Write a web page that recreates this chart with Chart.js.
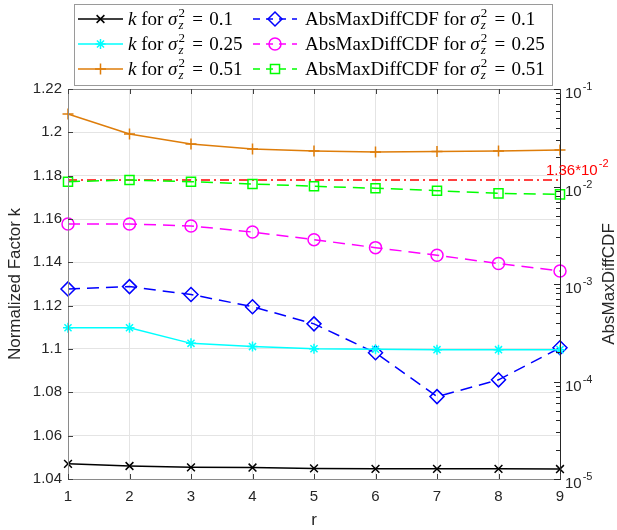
<!DOCTYPE html>
<html>
<head>
<meta charset="utf-8">
<script src="https://cdn.jsdelivr.net/npm/chart.js@4.4.1/dist/chart.umd.min.js"></script>
<style>
  html, body { margin: 0; padding: 0; background: #fff; }
  #wrap { width: 617px; height: 530px; }
</style>
</head>
<body>
<div id="wrap"><canvas id="chart" width="617" height="530"></canvas></div>
<script>
// ===============================
// DATA
// ===============================
const rValues = ['1', '2', '3', '4', '5', '6', '7', '8', '9'];
const varLabels = ['0.1', '0.25', '0.51'];

// normalized factor k (left axis)
const kVar01  = [1.0470, 1.0460, 1.0454, 1.0453, 1.0449, 1.0447, 1.0447, 1.0447, 1.0446];
const kVar025 = [1.1098, 1.1098, 1.1026, 1.1011, 1.1001, 1.0999, 1.0997, 1.0997, 1.0997];
const kVar051 = [1.2085, 1.1992, 1.1946, 1.1923, 1.1914, 1.1909, 1.1912, 1.1914, 1.1918];

// AbsMaxDiffCDF (right axis, log)
const cdfVar01  = [8.9e-4, 9.4e-4, 7.8e-4, 5.85e-4, 3.9e-4, 1.97e-4, 7.0e-5, 1.04e-4, 2.22e-4];
const cdfVar025 = [4.12e-3, 4.12e-3, 3.94e-3, 3.41e-3, 2.85e-3, 2.36e-3, 1.97e-3, 1.62e-3, 1.36e-3];
const cdfVar051 = [1.12e-2, 1.166e-2, 1.12e-2, 1.062e-2, 1.005e-2, 9.6e-3, 9.06e-3, 8.5e-3, 8.3e-3];

// red reference line
const refLevel = 0.01166;
const refText = '1.36*10';
const refExp = '-2';

// ticks
const kTicks = [1.04, 1.06, 1.08, 1.1, 1.12, 1.14, 1.16, 1.18, 1.2, 1.22];
const cdfTicks = [1e-5, 1e-4, 1e-3, 1e-2, 1e-1];
const cdfTickExp = ['-5', '-4', '-3', '-2', '-1'];

const ORANGE = 'rgb(222,125,10)';
const TXT = '#262626';

// ===============================
// DATASETS
// ===============================
function kSet(label, data, color, style, radius) {
  return {
    label, data, yAxisID: 'yLeft',
    borderColor: color, backgroundColor: 'rgba(0,0,0,0)',
    borderWidth: 1.5, pointStyle: style, pointRadius: radius,
    pointBorderColor: color, pointBackgroundColor: 'rgba(0,0,0,0)',
    pointBorderWidth: 1.5, tension: 0
  };
}
function cdfSet(label, data, color, style, radius) {
  const d = kSet(label, data, color, style, radius);
  d.yAxisID = 'yRight';
  d.borderDash = [12, 7];
  return d;
}

const datasets = [
  kSet('k 0.1', kVar01, '#000000', 'crossRot', 5.5),
  kSet('k 0.25', kVar025, '#00ffff', 'star', 5),
  kSet('k 0.51', kVar051, ORANGE, 'cross', 5.5),
  cdfSet('cdf 0.1', cdfVar01, '#0000ff', 'rectRot', 7),
  cdfSet('cdf 0.25', cdfVar025, '#ff00ff', 'circle', 6),
  cdfSet('cdf 0.51', cdfVar051, '#00ff00', 'rect', 6.4),
  {
    label: 'ref', data: rValues.map(() => refLevel), yAxisID: 'yRight',
    borderColor: '#ff0000', borderWidth: 1.5, borderDash: [9, 4, 2, 4],
    pointRadius: 0
  }
];

// ===============================
// DRAW HELPERS
// ===============================
function drawMarker(ctx, style, radius, x, y) {
  if (Chart.helpers && Chart.helpers.drawPoint) {
    Chart.helpers.drawPoint(ctx, { pointStyle: style, radius: radius, rotation: 0, borderWidth: 1.5 }, x, y);
  }
}

// "k for σ_z^2 = 0.1" style label
function drawRich(ctx, x, y, parts, size) {
  const fam = '"Liberation Serif", "Times New Roman", serif';
  ctx.textAlign = 'left';
  ctx.textBaseline = 'alphabetic';
  parts.forEach(p => {
    if (p.sub !== undefined) {
      const s = Math.round(size * 0.7);
      ctx.font = s + 'px ' + fam;
      const wSup = ctx.measureText(p.sup).width;
      ctx.fillText(p.sup, x + 1, y - size * 0.4);
      ctx.font = 'italic ' + s + 'px ' + fam;
      const wSub = ctx.measureText(p.sub).width;
      ctx.fillText(p.sub, x + 1, y + size * 0.2);
      x += Math.max(wSup, wSub) + 2;
    } else {
      ctx.font = (p.it ? 'italic ' : '') + size + 'px ' + fam;
      if (p.gap) x += p.gap;
      ctx.fillText(p.t, x, y);
      x += ctx.measureText(p.t).width + (p.gap || 0);
    }
  });
}

function sigmaParts(prefix, value) {
  return prefix.concat([
    { t: ' for ' }, { t: 'σ', it: true }, { sub: 'z', sup: '2' },
    { t: ' = ', gap: 1.5 }, { t: value }
  ]);
}

const decorPlugin = {
  id: 'decor',
  afterDraw(chart) {
    const ctx = chart.ctx;
    const a = chart.chartArea;
    const xs = chart.scales.x, yl = chart.scales.yLeft, yr = chart.scales.yRight;
    ctx.save();

    // box
    ctx.lineWidth = 1;
    ctx.strokeStyle = '#8a8a8a';
    ctx.beginPath();
    ctx.moveTo(a.left + 0.5, a.top + 0.5);
    ctx.lineTo(a.left + 0.5, a.bottom + 0.5);
    ctx.lineTo(a.right, a.bottom + 0.5);
    ctx.moveTo(a.left, a.top + 0.5);
    ctx.lineTo(a.right, a.top + 0.5);
    ctx.stroke();
    ctx.strokeStyle = '#262626';
    ctx.beginPath();
    ctx.moveTo(a.right + 0.5, a.top);
    ctx.lineTo(a.right + 0.5, a.bottom + 1);
    ctx.stroke();

    // tick marks (inside)
    ctx.strokeStyle = '#404040';
    ctx.beginPath();
    kTicks.forEach(v => {
      const y = Math.round(yl.getPixelForValue(v)) + 0.5;
      ctx.moveTo(a.left, y); ctx.lineTo(a.left + 5, y);
    });
    rValues.forEach((_, i) => {
      const x = Math.round(xs.getPixelForValue(i)) + 0.5;
      ctx.moveTo(x, a.bottom); ctx.lineTo(x, a.bottom - 5);
      ctx.moveTo(x, a.top); ctx.lineTo(x, a.top + 5);
    });
    ctx.stroke();
    ctx.strokeStyle = '#262626';
    ctx.beginPath();
    cdfTicks.forEach((v, i) => {
      const y = Math.round(yr.getPixelForValue(v)) + 0.5;
      ctx.moveTo(a.right, y); ctx.lineTo(a.right - 6, y);
      if (i < cdfTicks.length - 1) {
        for (let m = 2; m <= 9; m++) {
          const ym = Math.round(yr.getPixelForValue(v * m)) + 0.5;
          ctx.moveTo(a.right, ym); ctx.lineTo(a.right - 4, ym);
        }
      }
    });
    ctx.stroke();

    // right tick labels 10^n
    ctx.fillStyle = TXT;
    ctx.textBaseline = 'middle';
    ctx.textAlign = 'left';
    cdfTicks.forEach((v, i) => {
      const y = yr.getPixelForValue(v);
      ctx.font = '15px "Liberation Sans", Arial, sans-serif';
      ctx.fillText('10', a.right + 5, y + 5);
      const w = ctx.measureText('10').width;
      ctx.font = '11px "Liberation Sans", Arial, sans-serif';
      ctx.fillText(cdfTickExp[i], a.right + 5 + w + 1, y - 2);
    });

    // axis titles
    ctx.font = '17px "Liberation Sans", Arial, sans-serif';
    ctx.textAlign = 'center';
    ctx.textBaseline = 'middle';
    const yc = (a.top + a.bottom) / 2;
    ctx.save();
    ctx.translate(15, yc);
    ctx.rotate(-Math.PI / 2);
    ctx.fillText('Normalized Factor k', 0, 0);
    ctx.restore();
    ctx.save();
    ctx.translate(609, yc);
    ctx.rotate(-Math.PI / 2);
    ctx.fillText('AbsMaxDiffCDF', 0, 0);
    ctx.restore();
    ctx.fillText('r', (a.left + a.right) / 2, 520);

    // reference label
    ctx.fillStyle = '#ff0000';
    ctx.textAlign = 'left';
    const yRef = yr.getPixelForValue(refLevel);
    ctx.font = '15px "Liberation Sans", Arial, sans-serif';
    ctx.fillText(refText, 546, yRef - 9);
    const wr = ctx.measureText(refText).width;
    ctx.font = '11px "Liberation Sans", Arial, sans-serif';
    ctx.fillText(refExp, 546 + wr + 1, yRef - 16);

    // legend
    ctx.fillStyle = '#ffffff';
    ctx.fillRect(74.5, 4.5, 478, 81);
    ctx.strokeStyle = '#9a9a9a';
    ctx.lineWidth = 1;
    ctx.strokeRect(74.5, 4.5, 478, 81);
    const rows = [19, 44, 69];
    const cols = [{ x0: 78, x1: 123, tx: 128 }, { x0: 253, x1: 297, tx: 305 }];
    for (let i = 0; i < 6; i++) {
      const ds = datasets[i];
      const c = cols[i < 3 ? 0 : 1];
      const y = rows[i % 3];
      ctx.strokeStyle = ds.borderColor;
      ctx.fillStyle = 'rgba(0,0,0,0)';
      ctx.lineWidth = 1.5;
      ctx.setLineDash(i < 3 ? [] : [7, 6]);
      ctx.beginPath();
      ctx.moveTo(c.x0, y); ctx.lineTo(c.x1, y);
      ctx.stroke();
      ctx.setLineDash([]);
      drawMarker(ctx, ds.pointStyle, ds.pointRadius, (c.x0 + c.x1) / 2, y);
      ctx.fillStyle = '#000000';
      const prefix = i < 3 ? [{ t: 'k', it: true }] : [{ t: 'AbsMaxDiffCDF' }];
      drawRich(ctx, c.tx, y + 6, sigmaParts(prefix, varLabels[i % 3]), 19);
    }
    ctx.restore();
  }
};

// ===============================
// CHART
// ===============================
Chart.defaults.font.family = '"Liberation Sans", Arial, sans-serif';
Chart.defaults.color = TXT;

new Chart(document.getElementById('chart'), {
  type: 'line',
  data: { labels: rValues, datasets: datasets },
  options: {
    responsive: false,
    animation: false,
    layout: { padding: { top: 89, left: 0, right: 0, bottom: 0 } },
    plugins: { legend: { display: false }, tooltip: { enabled: false } },
    scales: {
      x: {
        type: 'category',
        offset: false,
        grid: { color: '#e4e4e4', drawTicks: false },
        border: { display: false },
        ticks: { font: { size: 15 }, padding: 9, color: TXT, maxRotation: 0 },
        afterFit: s => { s.height = 51; }
      },
      yLeft: {
        type: 'linear',
        position: 'left',
        min: 1.04, max: 1.22,
        grid: { color: '#e4e4e4', drawTicks: false },
        border: { display: false },
        afterBuildTicks: s => { s.ticks = kTicks.map(v => ({ value: v })); },
        ticks: {
          font: { size: 15 }, padding: 6, color: TXT,
          callback: v => String(Number(v.toFixed(2)))
        },
        afterFit: s => { s.width = 68; }
      },
      yRight: {
        type: 'logarithmic',
        position: 'right',
        min: 1e-5, max: 1e-1,
        grid: { display: false, drawTicks: false },
        border: { display: false },
        ticks: { display: false },
        afterFit: s => { s.width = 57; }
      }
    }
  },
  plugins: [decorPlugin]
});
</script>
</body>
</html>
